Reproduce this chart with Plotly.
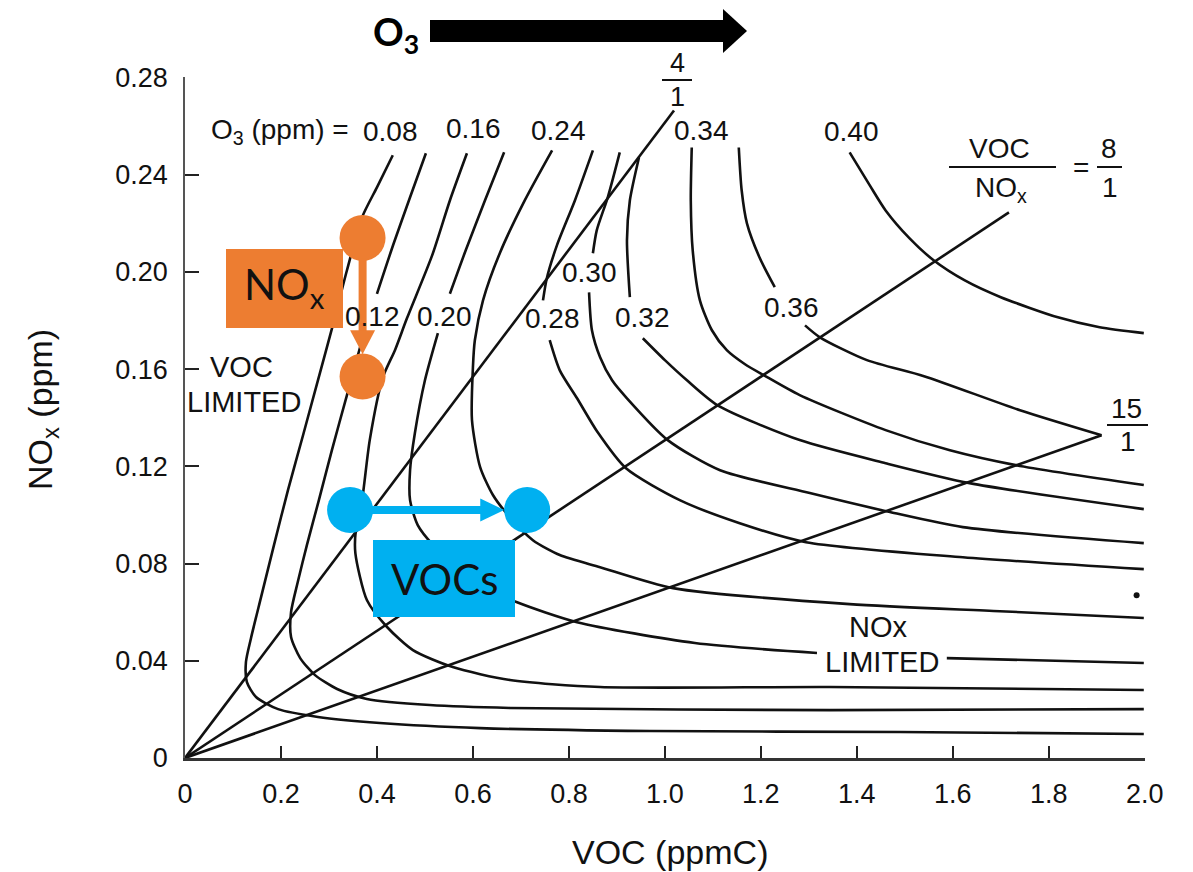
import plotly.graph_objects as go

# ---------------- data ----------------
# O3 isopleths (VOC in ppmC, NOx in ppm); None = gap where the printed label sits
iso_008_voc = [0.433, 0.400, 0.369, 0.3375, 0.308, 0.277, 0.246, 0.2146, 0.1854, 0.158, 0.1375, 0.127, 0.129, 0.148, 0.194, 0.277, 0.406, 0.615, 0.969, 1.490, 1.998]
iso_008_nox = [0.248, 0.2348, 0.2225, 0.2007, 0.178, 0.1554, 0.1328, 0.1102, 0.0876, 0.0658, 0.0493, 0.0395, 0.0312, 0.0251, 0.0201, 0.0169, 0.0144, 0.0123, 0.0111, 0.0107, 0.0099]

iso_012_voc = [0.502, 0.469, 0.435, 0.400, None, 0.369, 0.3375, 0.306, 0.279, 0.254, 0.235, 0.221, 0.221, 0.240, 0.271, 0.317, 0.379, 0.510, 0.677, 1.344, 1.998]
iso_012_nox = [0.2488, 0.2307, 0.2118, 0.191, None, 0.172, 0.1493, 0.1266, 0.1061, 0.0876, 0.0724, 0.060, 0.0498, 0.0411, 0.0341, 0.0284, 0.0243, 0.0218, 0.0206, 0.0197, 0.0201]

iso_016_voc = [0.5875, 0.552, 0.515, 0.4625, 0.4375, 0.4125, 0.385, 0.369, 0.356, 0.355, 0.379, 0.421, 0.475, 0.558, 0.677, 0.865, 1.344, 1.998]
iso_016_nox = [0.2488, 0.2294, 0.2068, 0.1809, 0.1678, 0.1567, 0.1308, 0.1061, 0.0938, 0.0843, 0.065, 0.0539, 0.0444, 0.0374, 0.0321, 0.0292, 0.0292, 0.028]

iso_020_voc = [0.665, 0.625, 0.585, 0.552, None, 0.527, 0.500, 0.479, 0.469, 0.469, 0.485, 0.517, 0.5625, 0.615, 0.692, 0.817, 1.0625, 1.317, None, 1.5875, 1.998]
iso_020_nox = [0.2492, 0.2294, 0.2089, 0.191, None, 0.1748, 0.1554, 0.1336, 0.1184, 0.1061, 0.0958, 0.0876, 0.0794, 0.0711, 0.0641, 0.0559, 0.0473, 0.0432, None, 0.0411, 0.0391]

iso_024_voc = [0.765, 0.708, 0.656, 0.621, 0.604, 0.600, 0.598, 0.615, 0.642, 0.677, 0.725, 0.781, 0.865, 1.017, 1.385, 1.698, 1.998]
iso_024_nox = [0.250, 0.2294, 0.2077, 0.1883, 0.1719, 0.1608, 0.139, 0.1197, 0.1081, 0.0991, 0.0896, 0.0835, 0.0785, 0.0699, 0.0633, 0.0604, 0.0576]

iso_028_voc = [0.850, 0.8125, 0.775, 0.754, 0.746, None, 0.760, 0.781, 0.817, 0.860, 0.919, 1.031, 1.156, 1.294, 1.621, 1.998]
iso_028_nox = [0.250, 0.2294, 0.2109, 0.1974, 0.1883, None, 0.1719, 0.1595, 0.148, 0.134, 0.1192, 0.1061, 0.0966, 0.0888, 0.0826, 0.0777]

iso_030_voc = [0.906, 0.881, 0.858, 0.850, None, 0.842, 0.848, 0.865, 0.890, 0.921, 1.006, 1.115, 1.302, 1.469, 1.621, 1.998]
iso_030_nox = [0.2492, 0.2307, 0.2171, 0.2077, None, 0.1916, 0.176, 0.1649, 0.1554, 0.148, 0.1308, 0.1184, 0.109, 0.1012, 0.095, 0.0884]

iso_032_voc = [0.946, 0.927, 0.921, 0.927, None, 0.954, 1.000, 1.046, 1.110, 1.281, 1.460, 1.635, 1.998]
iso_032_nox = [0.2471, 0.2294, 0.213, 0.1896, None, 0.1727, 0.1637, 0.1554, 0.1451, 0.1308, 0.1213, 0.1131, 0.1024]

iso_034_voc = [1.056, 1.054, 1.058, 1.073, 1.098, 1.129, 1.167, 1.206, 1.281, 1.460, 1.594, 1.731, 1.998]
iso_034_nox = [0.2512, 0.2294, 0.2089, 0.1883, 0.176, 0.1678, 0.162, 0.1575, 0.1493, 0.1349, 0.1266, 0.1205, 0.1123]

iso_036_voc = [1.154, 1.160, 1.171, 1.198, 1.229, None, 1.292, 1.323, 1.421, 1.540, 1.740, 1.910]
iso_036_nox = [0.2512, 0.2336, 0.220, 0.2056, 0.1937, None, 0.178, 0.1731, 0.1637, 0.1571, 0.1431, 0.1328]

iso_040_voc = [1.385, 1.427, 1.460, 1.510, 1.560, 1.625, 1.700, 1.819, 1.906, 1.998]
iso_040_nox = [0.2492, 0.2356, 0.2253, 0.2138, 0.2048, 0.1965, 0.1896, 0.1813, 0.1772, 0.1748]

iso_labels = ["0.08", "0.12", "0.16", "0.20", "0.24", "0.28", "0.30", "0.32", "0.34", "0.36", "0.40"]

# VOC/NOx ratio lines (from origin to printed end point)
ratio_names = ["4/1", "8/1", "15/1"]
ratio_end_voc = [1.019, 1.717, 1.910]
ratio_end_nox = [0.2664, 0.2245, 0.1328]

# stray printed dot
dot_voc = [1.983]
dot_nox = [0.067]

# illustration points: NOx reduction (orange) and VOC increase (blue)
nox_demo_voc = [0.370, 0.370]
nox_demo_nox = [0.214, 0.157]
voc_demo_voc = [0.344, 0.713]
voc_demo_nox = [0.102, 0.102]

x_tick_vals = [0, 0.2, 0.4, 0.6, 0.8, 1.0, 1.2, 1.4, 1.6, 1.8, 2.0]
x_tick_text = ["0", "0.2", "0.4", "0.6", "0.8", "1.0", "1.2", "1.4", "1.6", "1.8", "2.0"]
y_tick_vals = [0, 0.04, 0.08, 0.12, 0.16, 0.20, 0.24, 0.28]
y_tick_text = ["0", "0.04", "0.08", "0.12", "0.16", "0.20", "0.24", "0.28"]

# ---------------- layout geometry ----------------
OFF = 8                      # page body margin of the html page
W, H = 1193 - OFF, 872 - OFF
L, T = 185 - OFF, 77 - OFF
PW, PH = 960, 681
R, B = W - L - PW, H - T - PH
X_MAX, Y_MAX = 2.0, 0.28

TXT = "Liberation Sans, Arial, Helvetica, sans-serif"
OVL = "Lato, Open Sans, sans-serif"
INK = "#111111"
ORANGE = "#ED7D31"
BLUE = "#00B0F0"


def pp(px, py):
    """screen pixel -> paper"""
    fx, fy = px - OFF, py - OFF
    return (fx - L) / PW, (T + PH - fy) / PH


def d2p(x, y):
    """data -> screen pixel"""
    return L + OFF + x / X_MAX * PW, T + OFF + PH - y / Y_MAX * PH


fig = go.Figure()

isos = [
    (iso_008_voc, iso_008_nox), (iso_012_voc, iso_012_nox), (iso_016_voc, iso_016_nox),
    (iso_020_voc, iso_020_nox), (iso_024_voc, iso_024_nox), (iso_028_voc, iso_028_nox),
    (iso_030_voc, iso_030_nox), (iso_032_voc, iso_032_nox), (iso_034_voc, iso_034_nox),
    (iso_036_voc, iso_036_nox), (iso_040_voc, iso_040_nox),
]
for (vx, vy), name in zip(isos, iso_labels):
    fig.add_trace(go.Scatter(x=vx, y=vy, mode="lines", name=name, connectgaps=False,
                             line=dict(color=INK, width=2.6, shape="spline", smoothing=0.7),
                             hoverinfo="skip"))

for name, ex, ey in zip(ratio_names, ratio_end_voc, ratio_end_nox):
    fig.add_trace(go.Scatter(x=[0, ex], y=[0, ey], mode="lines", name=name,
                             line=dict(color=INK, width=2.6), hoverinfo="skip"))

fig.add_trace(go.Scatter(x=dot_voc, y=dot_nox, mode="markers",
                         marker=dict(color=INK, size=6), hoverinfo="skip"))

# demo circles
fig.add_trace(go.Scatter(x=nox_demo_voc, y=nox_demo_nox, mode="markers",
                         marker=dict(color=ORANGE, size=46, line=dict(width=0)), hoverinfo="skip"))
fig.add_trace(go.Scatter(x=voc_demo_voc, y=voc_demo_nox, mode="markers",
                         marker=dict(color=BLUE, size=46, line=dict(width=0)), hoverinfo="skip"))

shapes = []
annotations = []


def rect(x0, y0, x1, y1, color):
    a = pp(x0, y0)
    b = pp(x1, y1)
    shapes.append(dict(type="rect", xref="paper", yref="paper", x0=a[0], y0=a[1], x1=b[0], y1=b[1],
                       fillcolor=color, line=dict(width=0), layer="above"))


def poly(points, color):
    pts = [pp(*p) for p in points]
    path = "M " + " L ".join(f"{x:.5f},{y:.5f}" for x, y in pts) + " Z"
    shapes.append(dict(type="path", xref="paper", yref="paper", path=path,
                       fillcolor=color, line=dict(width=0), layer="above"))


def hline(x0, x1, y, width=2, color=INK):
    a = pp(x0, y)
    b = pp(x1, y)
    shapes.append(dict(type="line", xref="paper", yref="paper", x0=a[0], y0=a[1], x1=b[0], y1=b[1],
                       line=dict(color=color, width=width), layer="above"))


def text(t, px, py, size=25, anchor="center", family=TXT, color=INK, angle=0, bold=False):
    x, y = pp(px, py)
    if bold:
        t = "<b>" + t + "</b>"
    annotations.append(dict(text=t, x=x, y=y, xref="paper", yref="paper", xanchor=anchor,
                            yanchor="middle", showarrow=False, textangle=angle,
                            font=dict(family=family, size=size, color=color)))


# orange NOx arrow (between the two orange points)
R_PX = 23
ox, oy0 = d2p(nox_demo_voc[0], nox_demo_nox[0])
_, oy1 = d2p(nox_demo_voc[1], nox_demo_nox[1])
tip = oy1 - R_PX + 1
head = 24
rect(ox - 4, oy0 + R_PX - 2, ox + 4, tip - head + 2, ORANGE)
poly([(ox - 12.5, tip - head), (ox + 12.5, tip - head), (ox, tip)], ORANGE)

# blue VOC arrow
bx0, by = d2p(voc_demo_voc[0], voc_demo_nox[0])
bx1, _ = d2p(voc_demo_voc[1], voc_demo_nox[1])
btip = bx1 - R_PX
rect(bx0 + R_PX - 2, by - 4, btip - head + 2, by + 4, BLUE)
poly([(btip - head, by - 11.5), (btip - head, by + 11.5), (btip, by)], BLUE)

# boxes
rect(226, 249, 343, 328, ORANGE)
text("NO<sub>x</sub>", 284, 287, size=42, family=OVL)
rect(373, 540, 515, 617, BLUE)
text("VOCs", 444, 579, size=42, family=OVL)

# O3 arrow on top
rect(430, 20, 724, 42, "#000000")
poly([(723, 9), (723, 53), (747, 31)], "#000000")
text("O<sub>3</sub>", 421, 34, size=38, anchor="right", family=OVL, bold=True, color="#000000")

# isopleth labels
label_px = {
    "0.08": (390, 132), "0.12": (372, 316), "0.16": (473, 128), "0.20": (444, 316),
    "0.24": (558, 130), "0.28": (552, 318), "0.30": (589, 272), "0.32": (642, 317),
    "0.34": (701, 130), "0.36": (791, 307), "0.40": (851, 132),
}
for lab in iso_labels:
    text(lab, *label_px[lab], size=28)
text("O<sub>3</sub> (ppm) =", 351, 132, size=28, anchor="right")

# ratio labels
text("4", 677, 63, size=27)
hline(662, 692, 80)
text("1", 677, 97, size=27)
text("VOC", 999, 148, size=28)
hline(949, 1056, 167)
text("NO<sub>x</sub>", 1001, 190, size=28)
text("=", 1081, 167, size=28)
text("8", 1109, 148, size=28)
hline(1097, 1122, 167)
text("1", 1110, 187, size=28)
text("15", 1126, 408, size=28)
hline(1107, 1148, 425)
text("1", 1128, 442, size=28)

# regime labels
text("VOC", 241, 367, size=29)
text("LIMITED", 244, 402, size=29)
text("NOx", 878, 627, size=29)
text("LIMITED", 882, 662, size=29)

# axis titles
text("VOC (ppmC)", 670, 852, size=34)
text("NO<sub>x</sub> (ppm)", 42, 410, size=34, angle=-90)

fig.update_layout(
    width=W, height=H, autosize=False,
    margin=dict(l=L, r=R, t=T, b=B, pad=0),
    paper_bgcolor="white", plot_bgcolor="white",
    showlegend=False,
    shapes=shapes, annotations=annotations,
    xaxis=dict(range=[0, X_MAX + 0.0005], tickvals=x_tick_vals, ticktext=x_tick_text,
               showgrid=False, zeroline=False, showline=True, linecolor="#333", linewidth=2.5,
               ticks="inside", ticklen=12, tickwidth=1.5, tickcolor="#222",
               tickfont=dict(family=TXT, size=27, color=INK), ticklabelstandoff=10),
    yaxis=dict(range=[0, Y_MAX + 0.0002], tickvals=y_tick_vals, ticktext=y_tick_text,
               showgrid=False, zeroline=False, showline=True, linecolor="#555", linewidth=1.5,
               ticks="inside", ticklen=14, tickwidth=1.5, tickcolor="#222",
               tickfont=dict(family=TXT, size=27, color=INK), ticklabelstandoff=10),
)

fig.write_html("out.html")
